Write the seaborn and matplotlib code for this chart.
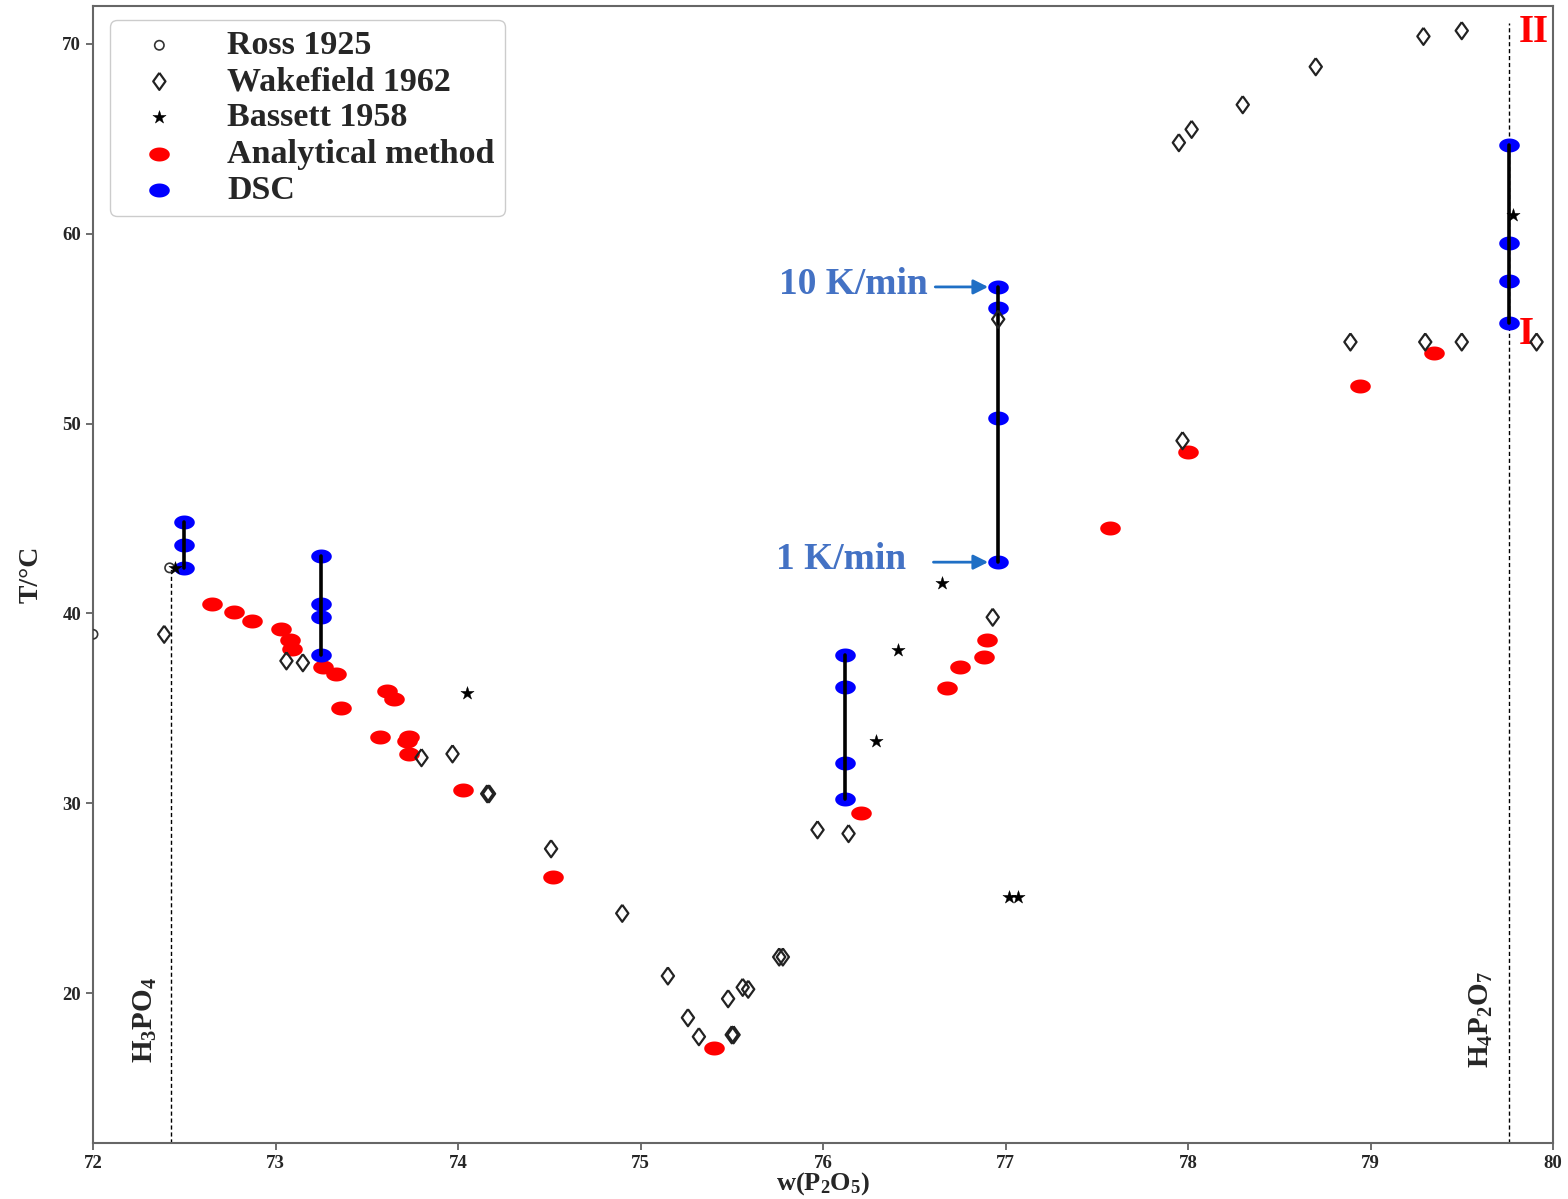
import numpy as np
import pandas as pd
import matplotlib
matplotlib.use("Agg")
import matplotlib.pyplot as plt
import seaborn as sns

# ---------------- data ----------------
ross_x = [72.42, 72.00]
ross_T = [42.4, 38.9]

wake_x = [72.39, 73.06, 73.15, 73.80, 73.97, 74.16, 74.17, 74.51, 74.90, 75.15,
          75.26, 75.32, 75.48, 75.50, 75.51, 75.56, 75.59, 75.76, 75.78, 75.97,
          76.14, 76.93, 76.96, 77.95, 78.02, 78.30, 78.70, 79.29, 79.50, 77.97,
          78.89, 79.30, 79.50, 79.91]
wake_T = [38.9, 37.5, 37.4, 32.4, 32.6, 30.5, 30.5, 27.6, 24.2, 20.9,
          18.7, 17.7, 19.7, 17.8, 17.8, 20.3, 20.2, 21.9, 21.9, 28.6,
          28.4, 39.8, 55.5, 64.8, 65.5, 66.8, 68.8, 70.4, 70.7, 49.1,
          54.3, 54.3, 54.3, 54.3]

bass_x = [72.45, 74.05, 76.29, 76.41, 76.65, 77.02, 77.07, 79.78]
bass_T = [42.4, 35.8, 33.3, 38.05, 41.6, 25.05, 25.05, 61.0]

anal_x = [72.65, 72.77, 72.87, 73.03, 73.08, 73.09, 73.26, 73.33, 73.36, 73.61,
          73.65, 73.57, 73.73, 73.72, 73.73, 74.03, 74.52, 75.40, 76.21, 76.68,
          76.75, 76.88, 76.90, 77.57, 78.00, 78.94, 79.35]
anal_T = [40.5, 40.1, 39.6, 39.2, 38.6, 38.1, 37.2, 36.8, 35.0, 35.9,
          35.5, 33.5, 33.5, 33.3, 32.6, 30.7, 26.1, 17.1, 29.5, 36.05,
          37.2, 37.7, 38.6, 44.5, 48.5, 52.0, 53.7]

dsc_x = [72.50, 72.50, 72.50,
         73.25, 73.25, 73.25, 73.25,
         76.12, 76.12, 76.12, 76.12,
         76.96, 76.96, 76.96, 76.96,
         79.76, 79.76, 79.76, 79.76]
dsc_T = [44.8, 43.6, 42.4,
         43.05, 40.5, 39.8, 37.8,
         37.8, 36.1, 32.1, 30.2,
         57.2, 56.1, 50.3, 42.7,
         64.7, 59.5, 57.5, 55.3]

labels = ["Ross 1925", "Wakefield 1962", "Bassett 1958", "Analytical method", "DSC"]
x_ticks = [72, 73, 74, 75, 76, 77, 78, 79, 80]
y_ticks = [20, 30, 40, 50, 60, 70]
h3po4_x = 72.43
h4p2o7_x = 79.76

# ---------------- style ----------------
sns.set_style("ticks")
plt.rcParams["font.family"] = ["Liberation Serif", "DejaVu Serif"]
plt.rcParams["font.weight"] = "bold"
plt.rcParams["mathtext.fontset"] = "custom"
plt.rcParams["mathtext.rm"] = "Liberation Serif:bold"
plt.rcParams["mathtext.it"] = "Liberation Serif:bold"
plt.rcParams["mathtext.bf"] = "Liberation Serif:bold"

fig = plt.figure(figsize=(15.68, 11.99), dpi=100)
ax = fig.add_axes([93 / 1568, 1 - 1143 / 1199, (1553 - 93) / 1568, (1143 - 6) / 1199])

t = np.linspace(0, 2 * np.pi, 40)
ellipse = np.column_stack([np.cos(t), 0.68 * np.sin(t)])
diamond = [(0, 1), (0.72, 0), (0, -1), (-0.72, 0), (0, 1)]

df_dsc = pd.DataFrame({"x": dsc_x, "T": dsc_T})
df_anal = pd.DataFrame({"x": anal_x, "T": anal_T})
df_ross = pd.DataFrame({"x": ross_x, "T": ross_T})
df_wake = pd.DataFrame({"x": wake_x, "T": wake_T})
df_bass = pd.DataFrame({"x": bass_x, "T": bass_T})

# dashed composition lines
ymin, ymax = 12.1, 72.0
ax.plot([h3po4_x, h3po4_x], [ymin, 42.4], ls=(0, (3, 2)), color="black", lw=1.0, zorder=1)
ax.plot([h4p2o7_x, h4p2o7_x], [ymin, 71.1], ls=(0, (3, 2)), color="black", lw=1.0, zorder=1)

sns.scatterplot(data=df_anal, x="x", y="T", marker=ellipse, s=220, color="red",
                edgecolor="red", linewidth=0, ax=ax, zorder=3, label=labels[3])
sns.scatterplot(data=df_dsc, x="x", y="T", marker=ellipse, s=220, color="blue",
                edgecolor="blue", linewidth=0, ax=ax, zorder=3, label=labels[4])
# DSC ranges
for xv, grp in df_dsc.groupby("x"):
    ax.plot([xv, xv], [grp["T"].min(), grp["T"].max()], color="black", lw=2.6, zorder=4)

sns.scatterplot(data=df_ross, x="x", y="T", marker="o", s=45, facecolor="none",
                edgecolor="#333333", linewidth=1.2, ax=ax, zorder=5, label=labels[0])
sns.scatterplot(data=df_wake, x="x", y="T", marker=diamond, s=150, facecolor="none",
                edgecolor="#222222", linewidth=1.6, ax=ax, zorder=5, label=labels[1])
sns.scatterplot(data=df_bass, x="x", y="T", marker="*", s=100, color="black",
                edgecolor="black", linewidth=0.3, ax=ax, zorder=6, label=labels[2])

ax.set_xlim(72, 80)
ax.set_ylim(ymin, ymax)
ax.set_xticks(x_ticks)
ax.set_yticks(y_ticks)
ax.tick_params(labelsize=13.5, length=5, width=1.2, color="#555555")
for lab in ax.get_xticklabels() + ax.get_yticklabels():
    lab.set_fontweight("bold")
for sp in ax.spines.values():
    sp.set_visible(True)
    sp.set_color("#666666")
    sp.set_linewidth(1.5)

ax.set_xlabel(r"w(P$_2$O$_5$)", fontsize=19, fontweight="bold")
ax.xaxis.set_label_coords(0.5, -0.024)
ax.set_ylabel("T/\u00b0C", fontsize=20, fontweight="bold")
ax.yaxis.set_label_coords(-0.034, 0.5)

# legend in reference order
handles, labs = ax.get_legend_handles_labels()
order = [labs.index(l) for l in labels]
leg = ax.legend([handles[i] for i in order], [labs[i] for i in order],
                loc="upper left", bbox_to_anchor=(110 / 1568, 1 - 20 / 1199),
                bbox_transform=fig.transFigure, borderaxespad=0,
                prop={"family": ["Liberation Serif", "DejaVu Serif"], "weight": "bold", "size": 24.5},
                frameon=True, fancybox=True, edgecolor="#cccccc", framealpha=1,
                handletextpad=0.84, labelspacing=0.15, borderpad=0.3, handlelength=2.3)

# annotations
blue_txt = "#4472C4"
arrow_col = "#1F6FC5"
ax.annotate("", xy=(76.92, 57.2), xytext=(76.60, 57.2),
            arrowprops=dict(arrowstyle="-|>", color=arrow_col, lw=2, mutation_scale=22), zorder=7)
ax.annotate("", xy=(76.92, 42.7), xytext=(76.59, 42.7),
            arrowprops=dict(arrowstyle="-|>", color=arrow_col, lw=2, mutation_scale=22), zorder=7)
ax.text(76.575, 57.35, "10 K/min", color=blue_txt, fontsize=27, fontweight="bold",
        ha="right", va="center")
ax.text(76.455, 42.85, "1 K/min", color=blue_txt, fontsize=27, fontweight="bold",
        ha="right", va="center")

ax.text(79.815, 70.6, "II", color="red", fontsize=28, fontweight="bold", ha="left", va="center")
ax.text(79.815, 54.7, "I", color="red", fontsize=28, fontweight="bold", ha="left", va="center")

ax.text(72.285, 18.6, r"H$_3$PO$_4$", rotation=90, fontsize=21, fontweight="bold",
        ha="center", va="center")
ax.text(79.61, 18.6, r"H$_4$P$_2$O$_7$", rotation=90, fontsize=21, fontweight="bold",
        ha="center", va="center")

fig.savefig("out.png", dpi=100)
